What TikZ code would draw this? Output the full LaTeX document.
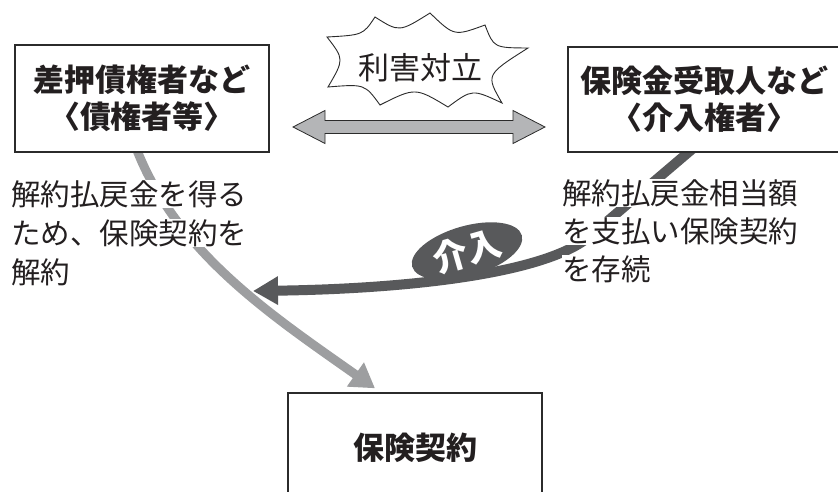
\documentclass[tikz,border=0pt]{standalone}
\usepackage{fontspec}
\newfontfamily\jp{Noto Sans CJK JP}
\usetikzlibrary{shapes.geometric,arrows.meta,calc}
\definecolor{dkgray}{HTML}{58595B}
\definecolor{ltgray}{HTML}{9D9EA0}
\definecolor{dblgray}{HTML}{B4B5B7}
\definecolor{edge}{HTML}{2B2B2B}
\definecolor{ink}{HTML}{231F20}
\pgfdeclarelayer{background}
\pgfsetlayers{background,main}
\begin{document}
\begin{tikzpicture}[x=1pt,y=-1pt,
  box/.style={draw=edge, line width=1.4pt, fill=white, inner sep=0pt, align=center, text=ink,
    font=\jp\bfseries\fontsize{31}{37}\selectfont},
  note/.style={fill=white, inner sep=0pt, anchor=west, text=ink,
    font=\jp\fontsize{29.5}{35}\selectfont},
  burstline/.style={draw=edge, line width=0.9pt, fill=white},
  dblarrow/.style={draw=edge, line width=0.8pt, fill=dblgray}
]
\useasboundingbox (0,0) rectangle (838,492);

% boxes
\node[box, minimum width=254pt, minimum height=107pt] (lbox) at (142,98.5) {差押債権者など\\〈債権者等〉};
\node[box, minimum width=272pt, minimum height=105pt] (rbox) at (704,99.5) {保険金受取人など\\〈介入権者〉};
\node[box, minimum width=254pt, minimum height=110pt] (cbox) at (415,448) {保険契約};

% burst
\draw[burstline] (327,37) .. controls (363,35) .. (375,17)
  .. controls (399.2,32.3) .. (430,13)
  .. controls (454.2,36.3) .. (485,25)
  .. controls (493.8,47.8) .. (528,48)
  .. controls (485.7,74.8) .. (502,103)
  .. controls (472.3,89) .. (448,107)
  .. controls (415.3,87.3) .. (380,105)
  .. controls (364.7,84) .. (328,87)
  .. controls (344.2,59.3) .. (327,37) -- cycle;
\node[text=ink, inner sep=0pt, font=\jp\fontsize{31}{36}\selectfont] (conflict) at (420,68) {利害対立};

% double arrow
\draw[dblarrow] (293,127) -- (325,110.5) -- (325,120.5) -- (513,120.5) -- (513,110.5) -- (545,127)
  -- (513,143.5) -- (513,133.5) -- (325,133.5) -- (325,143.5) -- cycle;

% notes
\node[note] (l1) at (11,194) {解約払戻金を得る};
\node[note] (l2) at (11,233) {ため、保険契約を};
\node[note] (l3) at (11,272) {解約};
\node[note] (r1) at (562,193) {解約払戻金相当額};
\node[note] (r2) at (562,231) {を支払い保険契約};
\node[note] (r3) at (562,269) {を存続};

% intervention ellipse
\node[ellipse, fill=dkgray, minimum width=114pt, minimum height=50pt, inner sep=0pt, rotate=16,
  text=white, font=\jp\bfseries\fontsize{35}{38}\selectfont] (kainyu) at (467,251) {介入};

\coordinate (dtip) at (253,291);

\begin{pgfonlayer}{background}
\draw[ltgray, line width=9pt, -{Triangle[length=24pt,width=28pt]}]
  ([xshift=-6pt,yshift=5pt]lbox.south) .. controls (176,252) and (271,315) .. ([xshift=-40pt,yshift=4pt]cbox.north);
\draw[dkgray, line width=10pt, -{Triangle[length=25pt,width=27pt]}]
  ([xshift=-9pt,yshift=6pt]rbox.south) -- (590,236) .. controls (544.5,275) and (400,289) .. (dtip);
\end{pgfonlayer}
\end{tikzpicture}
\end{document}
